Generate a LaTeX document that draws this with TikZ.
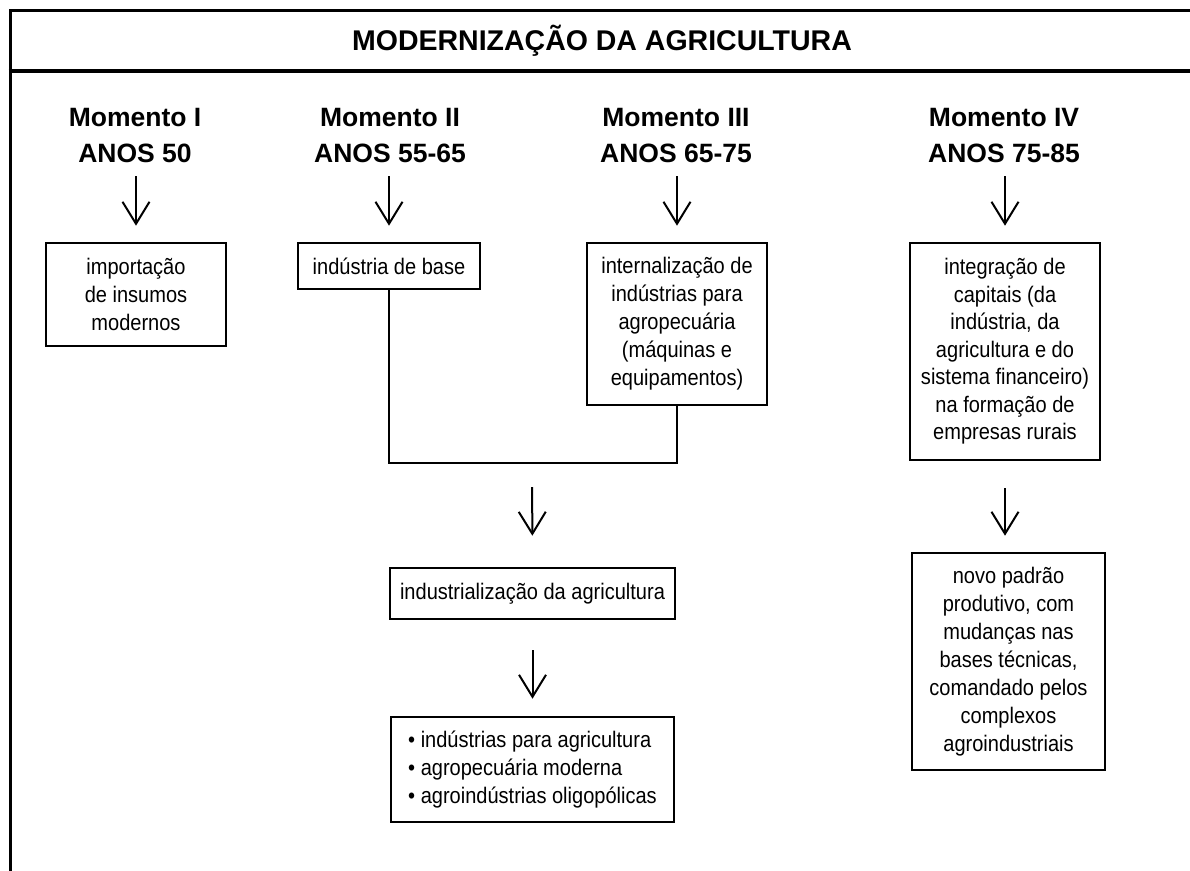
\documentclass[tikz,border=0pt]{standalone}
\usepackage{fontspec}
\setmainfont{Liberation Sans}
\newfontfamily\narrowfont[FakeStretch=0.89]{Liberation Sans}
\usetikzlibrary{arrows.meta}
\tikzset{
  frameline/.style={line width=3pt},
  headline/.style={line width=4pt},
  titletext/.style={font=\bfseries\fontsize{28.5}{32}\selectfont, inner sep=0pt, anchor=base},
  head/.style={font=\bfseries\fontsize{26.5}{36.5}\selectfont, align=center, inner sep=0pt, anchor=north},
  box/.style={draw, line width=2.6pt, font=\narrowfont\fontsize{22.5}{28}\selectfont, align=center, inner sep=0pt},
  conn/.style={line width=2.5pt, line join=miter},
  arr/.style={line width=2pt, -{Straight Barb[length=22pt,width=27pt]}}
}
\begin{document}
\begin{tikzpicture}[x=1pt,y=-1pt]
\useasboundingbox (0,0) rectangle (1190,870);
% frame
\draw[frameline] (1195,10) -- (10,10) -- (10,875);
\draw[headline] (8.5,70.5) -- (1195,70.5);
\node[titletext] (title) at (602,50) {MODERNIZAÇÃO DA AGRICULTURA};
% headings
\node[head] (h1) at (135,108) {Momento I\\ANOS 50};
\node[head] (h2) at (390,108) {Momento II\\ANOS 55-65};
\node[head] (h3) at (676,108) {Momento III\\ANOS 65-75};
\node[head] (h4) at (1004,108) {Momento IV\\ANOS 75-85};
% boxes
\node[box, minimum width=180pt, minimum height=103pt] (b1) at (136,294.5) {importação\\de insumos\\modernos};
\node[box, minimum width=182pt, minimum height=46pt] (b2) at (389,266) {indústria de base};
\node[box, minimum width=180pt, minimum height=162pt] (b3) at (677,324) {internalização de\\indústrias para\\agropecuária\\(máquinas e\\equipamentos)};
\node[box, minimum width=190pt, minimum height=217pt, font=\narrowfont\fontsize{22.5}{27.5}\selectfont] (b4) at (1005,351.5) {integração de\\capitais (da\\indústria, da\\agricultura e do\\sistema financeiro)\\na formação de\\empresas rurais};
\node[box, minimum width=193pt, minimum height=217pt] (b5) at (1008.5,661.5) {novo padrão\\produtivo, com\\mudanças nas\\bases técnicas,\\comandado pelos\\complexos\\agroindustriais};
\node[box, minimum width=285pt, minimum height=51pt] (b6) at (532.5,593.5) {industrialização da agricultura};
\node[box, minimum width=283pt, minimum height=105pt, align=left] (b7) at (532.5,769.5) {\textbullet\ indústrias para agricultura\\\textbullet\ agropecuária moderna\\\textbullet\ agroindústrias oligopólicas};
% connectors
\coordinate (jm) at (532,463);
\draw[conn] (b2.south) |- (jm) -| (b3.south);
% arrows
\draw[arr, shorten <=13pt, shorten >=16pt] (h1.south -| b1.north) -- (b1.north);
\draw[arr, shorten <=13pt, shorten >=16pt] (h2.south -| b2.north) -- (b2.north);
\draw[arr, shorten <=13pt, shorten >=16pt] (h3.south -| b3.north) -- (b3.north);
\draw[arr, shorten <=13pt, shorten >=16pt] (h4.south -| b4.north) -- (b4.north);
\draw[arr, shorten <=24pt, shorten >=31pt] (jm) -- (b6.north);
\draw[arr, shorten <=30pt, shorten >=17pt] (b6.south) -- (b7.north);
\draw[arr, shorten <=27pt, shorten >=16pt] (b4.south) -- (b5.north -| b4.south);
\end{tikzpicture}
\end{document}
